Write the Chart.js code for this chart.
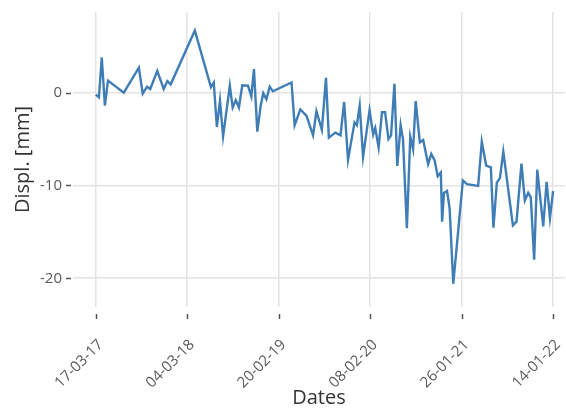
<!DOCTYPE html>
<html>
<head>
<meta charset="utf-8">
<script src="https://cdn.jsdelivr.net/npm/chart.js@4/dist/chart.umd.min.js"></script>
<style>
  html, body { margin: 0; padding: 0; background: #ffffff; }
  #wrap { width: 566px; height: 410px; }
</style>
</head>
<body>
<div id="wrap"><canvas id="c" width="566" height="410"></canvas></div>
<script>
// Acquisition dates of the displacement time series
const dates = [
  '2017-03-17','2017-03-29','2017-04-09','2017-04-21','2017-05-03','2017-07-03','2017-08-30','2017-09-14',
  '2017-10-01','2017-10-13','2017-11-09','2017-12-04','2017-12-18','2017-12-31','2018-04-03','2018-06-04',
  '2018-06-15','2018-06-27','2018-07-09','2018-07-21','2018-08-16','2018-08-27','2018-09-08','2018-09-20',
  '2018-10-03','2018-10-25','2018-11-07','2018-11-17','2018-11-30','2018-12-13','2018-12-23','2019-01-04',
  '2019-01-17','2019-01-29','2019-04-11','2019-04-23','2019-05-15','2019-06-08','2019-07-03','2019-07-16',
  '2019-08-06','2019-08-22','2019-09-02','2019-09-27','2019-10-17','2019-10-31','2019-11-15','2019-12-10',
  '2019-12-19','2019-12-30','2020-01-12','2020-02-06','2020-02-20','2020-02-28','2020-03-12','2020-03-25',
  '2020-04-06','2020-04-19','2020-04-29','2020-05-12','2020-05-23','2020-06-05','2020-06-14','2020-06-29',
  '2020-07-12','2020-07-23','2020-08-02','2020-08-18','2020-08-31','2020-09-19','2020-10-01','2020-10-14',
  '2020-10-26','2020-11-07','2020-11-12','2020-11-19','2020-12-01','2020-12-11','2020-12-25','2021-01-31',
  '2021-02-16','2021-03-31','2021-04-14','2021-05-01','2021-05-19','2021-05-29','2021-06-11','2021-06-23',
  '2021-07-06','2021-08-12','2021-08-26','2021-09-14','2021-09-27','2021-10-10','2021-10-20','2021-11-02',
  '2021-11-14','2021-12-07','2021-12-20','2022-01-02','2022-01-14'
];

// Displacement in mm at each date
const displacement = [
  -0.2, -0.5, 3.8, -1.4, 1.3, 0.0, 2.7, -0.1,
  0.65, 0.4, 2.35, 0.4, 1.25, 0.9, 6.7, 0.6,
  1.1, -3.7, -0.85, -4.7, 0.75, -1.6, -0.8, -1.6,
  0.8, 0.75, -0.4, 2.55, -4.2, -1.4, -0.05, -0.7,
  0.65, 0.15, 1.1, -3.5, -1.8, -2.5, -4.6, -2.0,
  -4.0, 1.6, -4.85, -4.3, -4.6, -1.0, -7.25, -3.2,
  -3.5, -1.4, -6.9, -1.9, -4.5, -3.8, -5.9, -2.1,
  -2.1, -5.0, -4.6, 0.95, -7.9, -3.5, -5.0, -14.6,
  -4.75, -6.1, -0.9, -5.35, -5.1, -7.7, -6.6, -7.3,
  -9.0, -8.6, -13.9, -10.8, -10.6, -12.5, -20.6, -9.45,
  -9.85, -10.05, -5.3, -7.85, -8.05, -14.55, -9.7, -9.2,
  -6.35, -14.3, -13.9, -7.65, -11.6, -10.8, -11.25, -18.0,
  -8.3, -14.4, -9.6, -13.5, -10.6
];

// Date axis ticks and their labels
const tickDates = ['2017-03-17','2018-03-04','2019-02-20','2020-02-08','2021-01-26','2022-01-14'];
const tickLabels = ['17-03-17','04-03-18','20-02-19','08-02-20','26-01-21','14-01-22'];
const dateRange = ['2016-12-19','2022-03-01'];

// Displacement axis
const yTicks = [-20, -10, 0];
const yRange = [-23.1, 8.7];

const DAY = 86400000;
const toDay = s => Date.parse(s + 'T00:00:00Z') / DAY;

const points = dates.map((d, i) => ({ x: toDay(d), y: displacement[i] }));
const tickDays = tickDates.map(toDay);

// Short outside tick marks, separated from the plot by a small gap
const tickMarks = {
  id: 'tickMarks',
  afterDraw(chart) {
    const { ctx, chartArea: a, scales: { x, y } } = chart;
    ctx.save();
    ctx.strokeStyle = '#555';
    ctx.lineWidth = 1.5;
    ctx.beginPath();
    x.ticks.forEach(t => {
      const px = Math.round(x.getPixelForValue(t.value)) + 0.5;
      ctx.moveTo(px, a.bottom + 7);
      ctx.lineTo(px, a.bottom + 12);
    });
    y.ticks.forEach(t => {
      const py = Math.round(y.getPixelForValue(t.value)) + 0.5;
      ctx.moveTo(a.left - 7, py);
      ctx.lineTo(a.left - 2, py);
    });
    ctx.stroke();
    ctx.restore();
  }
};

// Fixed axis sizes, without the extra room Chart.js reserves for edge labels
const fixSize = (prop, size) => s => {
  s[prop] = size;
  s.paddingTop = 0; s.paddingBottom = 0; s.paddingLeft = 0; s.paddingRight = 0;
};

const FONT = '"Open Sans", "Noto Sans", sans-serif';

new Chart(document.getElementById('c'), {
  type: 'line',
  data: {
    datasets: [{
      data: points,
      borderColor: '#3f7db6',
      borderWidth: 2.4,
      pointRadius: 0,
      tension: 0,
      fill: false
    }]
  },
  options: {
    responsive: false,
    animation: false,
    devicePixelRatio: 1,
    layout: { padding: { top: 12, right: 1, left: 0, bottom: 0 } },
    plugins: { legend: { display: false }, tooltip: { enabled: false } },
    scales: {
      x: {
        type: 'linear',
        min: toDay(dateRange[0]),
        max: toDay(dateRange[1]),
        afterBuildTicks: s => { s.ticks = tickDays.map(v => ({ value: v })); },
        afterFit: fixSize('height', 103),
        border: { display: false },
        grid: { color: '#e3e3e3', lineWidth: 1.5, drawTicks: false },
        ticks: {
          autoSkip: false,
          minRotation: 45,
          maxRotation: 45,
          padding: 29,
          labelOffset: 5,
          color: '#5a5a5a',
          font: { family: FONT, size: 15 },
          callback: (v, i) => tickLabels[i]
        },
        title: {
          display: true,
          text: 'Dates',
          color: '#333',
          font: { family: FONT, size: 20 },
          padding: { top: 0, bottom: 0 }
        }
      },
      y: {
        min: yRange[0],
        max: yRange[1],
        afterBuildTicks: s => { s.ticks = yTicks.map(v => ({ value: v })); },
        afterFit: fixSize('width', 73),
        border: { display: false },
        grid: { color: '#e3e3e3', lineWidth: 1.5, drawTicks: false },
        ticks: {
          padding: 11,
          color: '#5a5a5a',
          font: { family: FONT, size: 15 }
        },
        title: {
          display: true,
          text: 'Displ. [mm]',
          color: '#333',
          font: { family: FONT, size: 20 },
          padding: { top: 11, bottom: 0 }
        }
      }
    }
  },
  plugins: [tickMarks]
});
</script>
</body>
</html>
